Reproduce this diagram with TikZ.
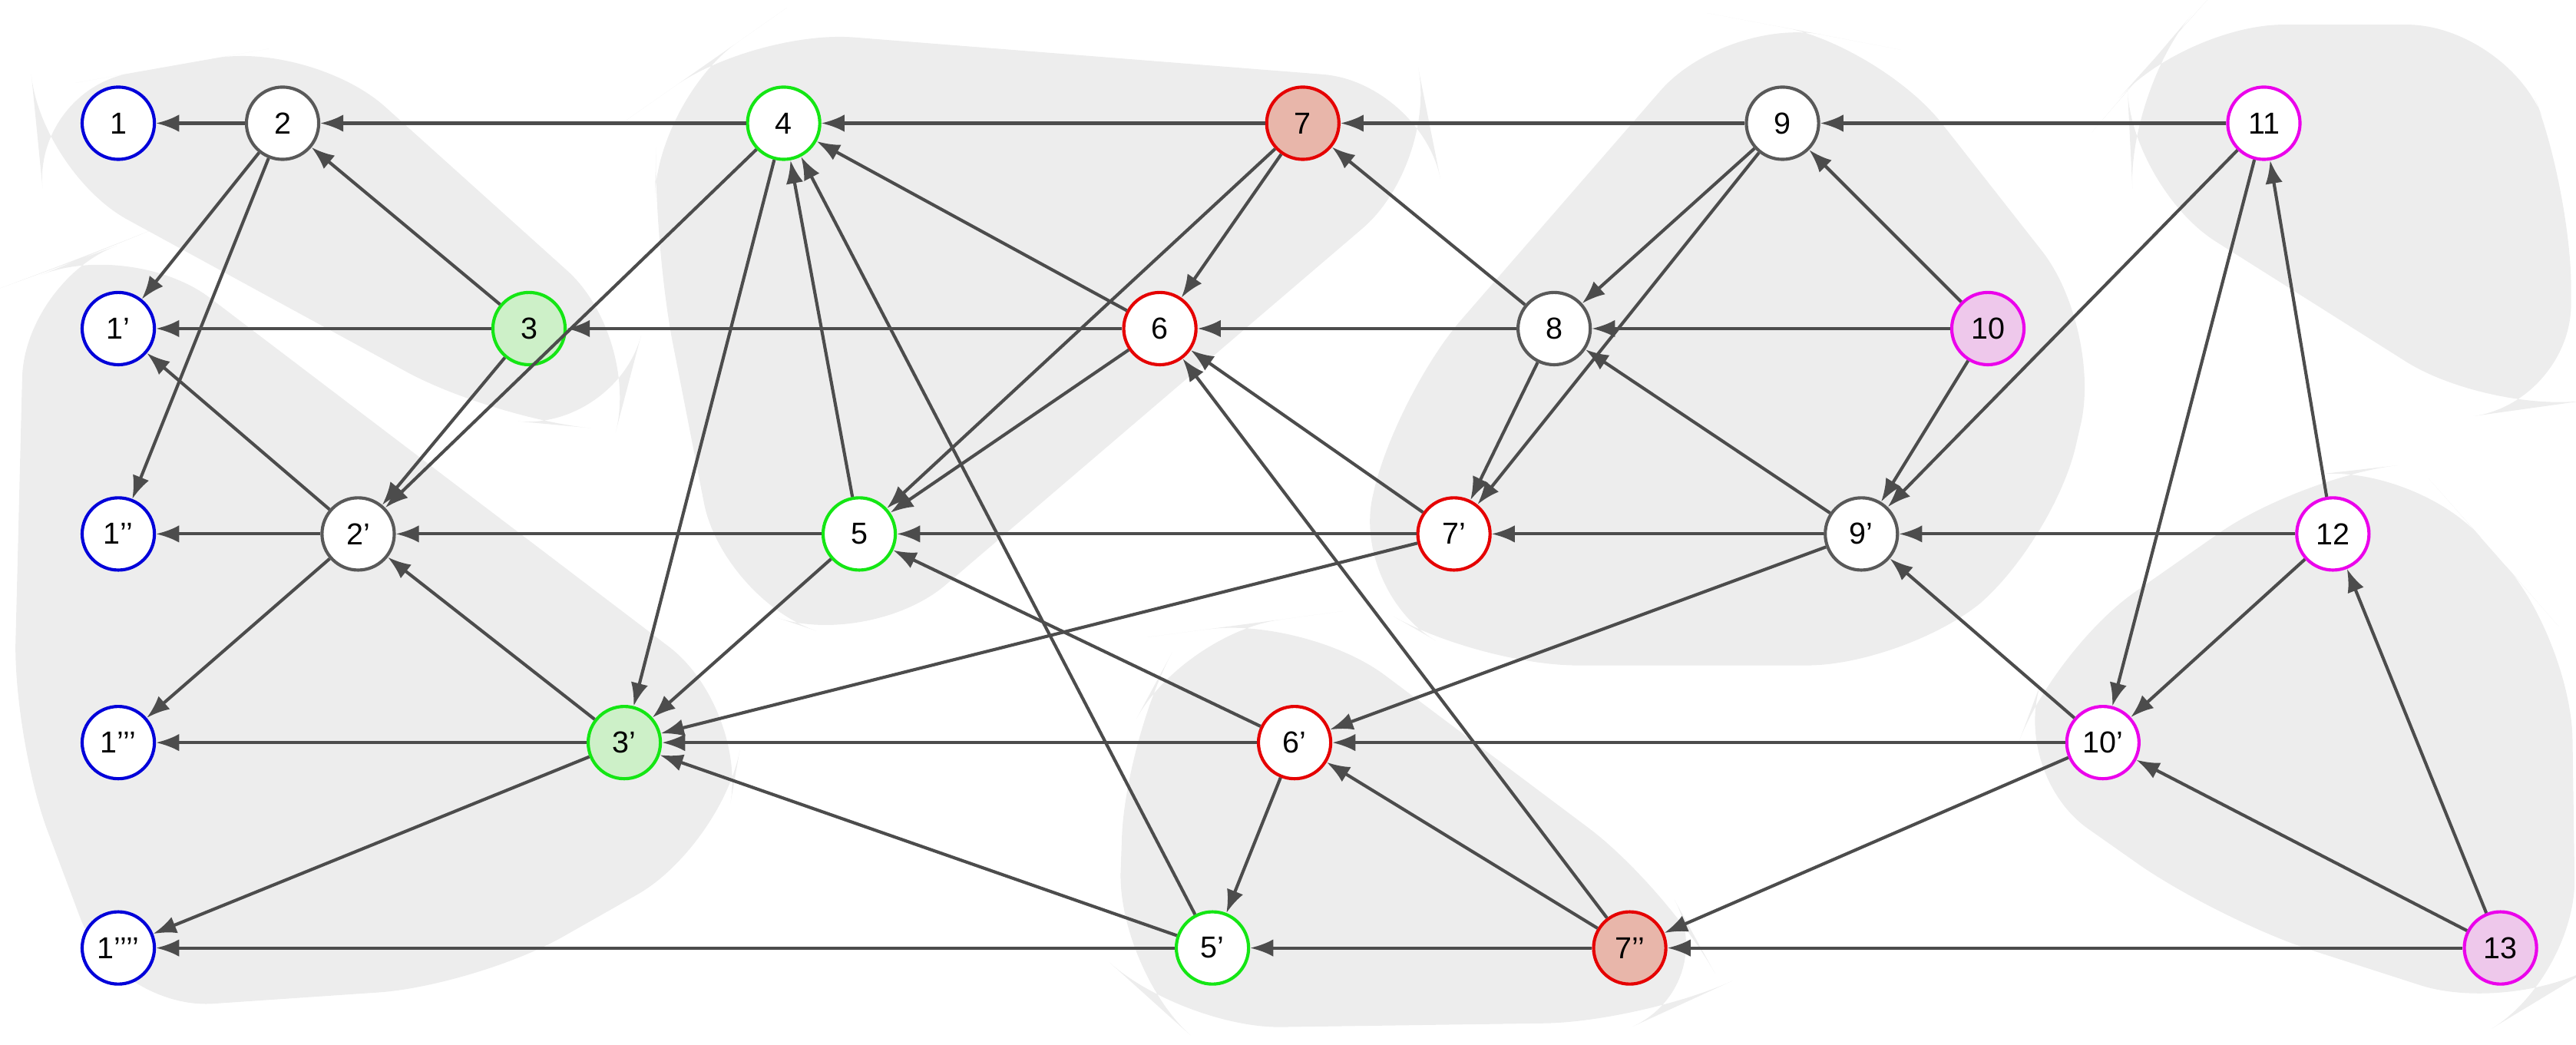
\documentclass[tikz,border=0pt]{standalone}
\usepackage{fontspec}
\setmainfont{Liberation Sans}
\usetikzlibrary{arrows.meta}

\definecolor{redfill}{RGB}{232,182,170}
\definecolor{pinkfill}{RGB}{238,200,235}
\definecolor{greenfill}{RGB}{205,240,200}
\definecolor{mag}{RGB}{235,0,235}
\definecolor{grn}{RGB}{20,230,20}

\tikzset{
  st/.style={circle, draw, line width=1.1pt, minimum size=0.88cm, inner sep=0pt, font=\fontsize{10.5}{12}\selectfont, fill=white},
  sb/.style={st, draw=blue!85!black},
  sg/.style={st, draw=black!65},
  sgr/.style={st, draw=grn},
  sgf/.style={sgr, fill=greenfill},
  sr/.style={st, draw=red!90!black},
  srf/.style={sr, fill=redfill},
  sm/.style={st, draw=mag},
  smf/.style={sm, fill=pinkfill},
  tr/.style={-{Latex[length=8pt,width=6pt]}, line width=1.1pt, draw=black!70},
  blob/.style={fill=black!7, rounded corners=1.2cm}
}

\begin{document}
\begin{tikzpicture}[x=0.02cm, y=-0.02cm]
\useasboundingbox (0,0) rectangle (1568,636);

% background groups
\fill[blob] (105,40) -- (190,25) -- (390,205) -- (375,262) -- (300,255) -- (25,105) -- (20,55) -- cycle;
\fill[blob] (48,158) -- (80,145) -- (455,430) -- (440,515) -- (290,600) -- (70,615) -- (8,450) -- (15,170) -- cycle;
\fill[blob] (430,39) -- (460,18) -- (865,50) -- (875,100) -- (530,395) -- (440,365) -- (398,150) -- (400,60) -- cycle;
\fill[blob] (1098,19) -- (1145,28) -- (1280,200) -- (1250,330) -- (1160,405) -- (900,405) -- (822,360) -- (850,240) -- (1050,10) -- cycle;
\fill[blob] (1312,35) -- (1330,15) -- (1525,15) -- (1565,115) -- (1565,245) -- (1515,252) -- (1298,115) -- (1295,55) -- cycle;
\fill[blob] (1518,336) -- (1565,390) -- (1568,595) -- (1530,618) -- (1350,560) -- (1222,470) -- (1250,395) -- (1400,290) -- (1470,282) -- cycle;
\fill[blob] (758,380) -- (795,375) -- (1015,540) -- (1048,600) -- (1000,622) -- (720,626) -- (680,590) -- (685,450) -- (720,385) -- cycle;

% states
\node[sb] (s1) at (72,75) {1};
\node[sg] (s2) at (172,75) {2};
\node[sgr] (s4) at (477,75) {4};
\node[srf] (s7) at (793,75) {7};
\node[sg] (s9) at (1085,75) {9};
\node[sm] (s11) at (1378,75) {11};
\node[sb] (s1a) at (72,200) {1’};
\node[sgf] (s3) at (322,200) {3};
\node[sr] (s6) at (706,200) {6};
\node[sg] (s8) at (946,200) {8};
\node[smf] (s10) at (1210,200) {10};
\node[sb] (s1b) at (72,325) {1’’};
\node[sg] (s2a) at (218,325) {2’};
\node[sgr] (s5) at (523,325) {5};
\node[sr] (s7a) at (885,325) {7’};
\node[sg] (s9a) at (1133,325) {9’};
\node[sm] (s12) at (1420,325) {12};
\node[sb] (s1c) at (72,452) {1’’’};
\node[sgf] (s3a) at (380,452) {3’};
\node[sr] (s6a) at (788,452) {6’};
\node[sm] (s10a) at (1280,452) {10’};
\node[sb] (s1d) at (72,577) {1’’’’};
\node[sgr] (s5a) at (738,577) {5’};
\node[srf] (s7b) at (992,577) {7’’};
\node[smf] (s13) at (1522,577) {13};

% transitions
\foreach \a/\b in {s2/s1, s4/s2, s7/s4, s9/s7, s11/s9,
  s2/s1a, s2/s1b, s3/s2, s3/s1a, s3/s2a, s6/s3, s8/s6, s10/s8,
  s4/s2a, s4/s3a, s5/s4, s5a/s4, s6/s4, s7/s6, s7/s5, s6/s5, s7a/s6,
  s8/s7, s8/s7a, s9/s8, s9/s7a, s10/s9, s10/s9a, s9a/s8, s11/s9a, s11/s10a,
  s12/s11, s12/s10a, s12/s9a, s9a/s7a, s7a/s5, s5/s2a,
  s2a/s1b, s2a/s1a, s2a/s1c, s3a/s2a, s5/s3a, s7a/s3a, s6a/s3a,
  s3a/s1c, s3a/s1d, s6a/s5, s6a/s5a, s7b/s6, s7b/s6a, s7b/s5a, s5a/s3a,
  s5a/s1d, s10a/s6a, s10a/s7b, s10a/s9a, s13/s10a, s13/s12, s13/s7b, s9a/s6a}
  \draw[tr] (\a) -- (\b);
\end{tikzpicture}
\end{document}
